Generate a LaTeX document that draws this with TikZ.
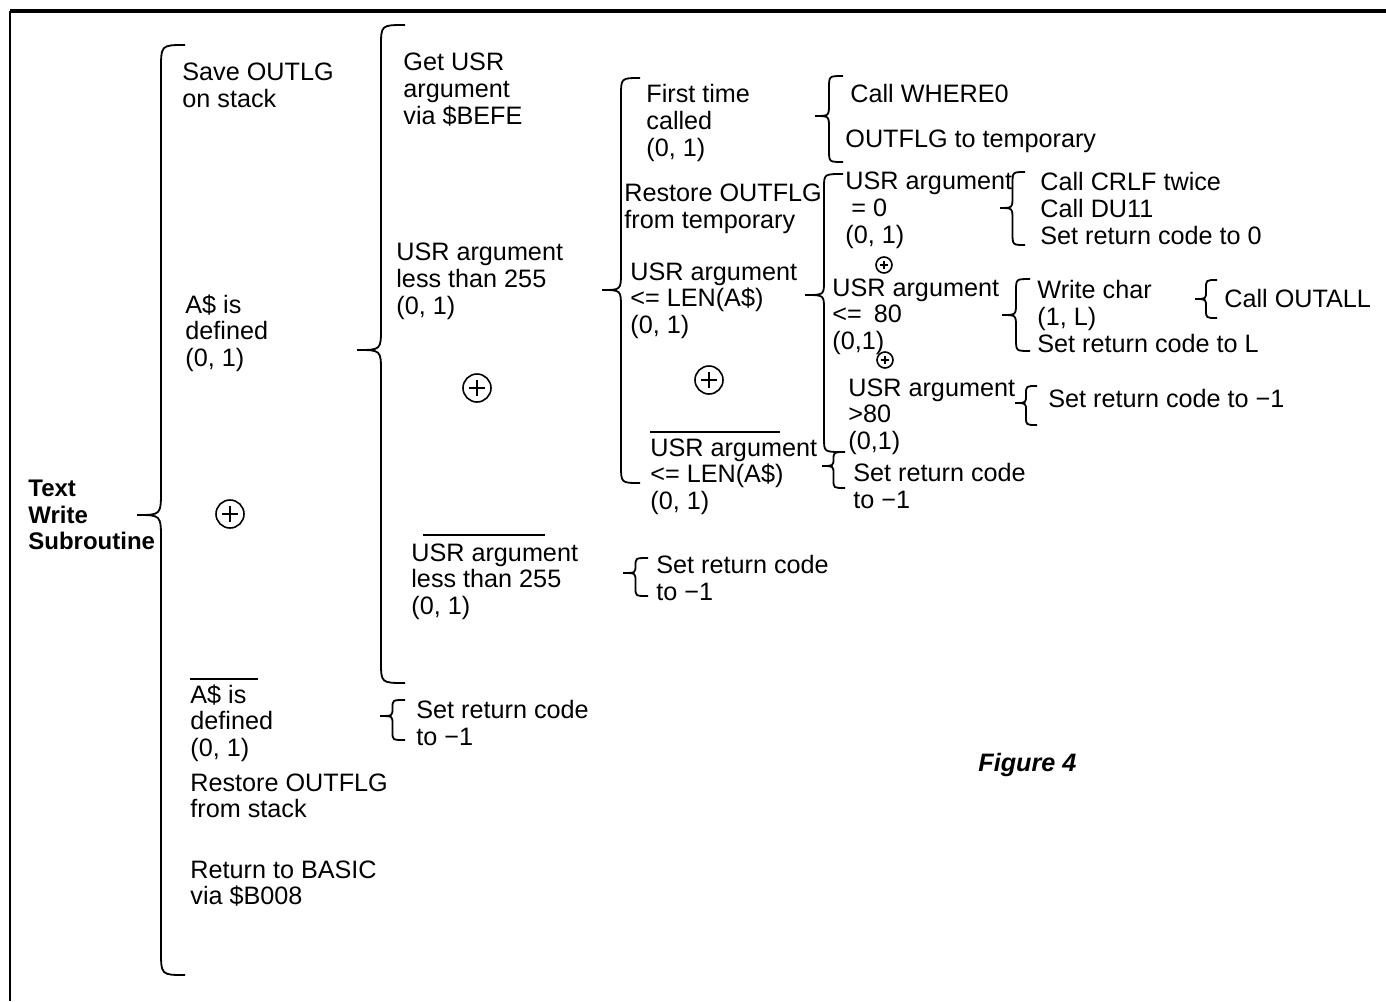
\documentclass[tikz,border=0pt]{standalone}
\usepackage{fontspec}
\setmainfont{Liberation Sans}
\usepackage{tikz}
\usetikzlibrary{positioning}

% Warnier-Orr brace: end x, top y, tip y, bottom y, width, hook size
\newcommand{\wobrace}[6]{%
  \pgfmathsetmacro{\bxl}{#1-#5/2}%
  \pgfmathsetmacro{\bxt}{#1-#5}%
  \draw[wob] (#1,#2) .. controls (\bxl,#2) .. (\bxl,#2+#6)
    -- (\bxl,#3-#6) .. controls (\bxl,#3) .. (\bxt,#3)
    .. controls (\bxl,#3) .. (\bxl,#3+#6)
    -- (\bxl,#4-#6) .. controls (\bxl,#4) .. (#1,#4);
}

\begin{document}
\begin{tikzpicture}[
    x=0.5pt, y=-0.5pt,
    txt/.style={anchor=north west, inner sep=0pt, align=left, font=\fontsize{12.6}{13.4}\selectfont},
    hd/.style={txt, font=\fontsize{12}{13.2}\selectfont\bfseries},
    fig/.style={txt, font=\fontsize{12.6}{14}\selectfont\bfseries\itshape},
    wob/.style={line width=0.9pt},
    ovl/.style={line width=0.9pt},
    oplus/.style={circle, draw, line width=0.8pt, minimum size=#1, inner sep=0pt,
        path picture={\draw[line width=0.7pt] ([yshift=-0.22*#1]path picture bounding box.north) -- ([yshift=0.22*#1]path picture bounding box.south)
            ([xshift=0.22*#1]path picture bounding box.west) -- ([xshift=-0.22*#1]path picture bounding box.east);}},
    oplus/.default=14pt
]
    \useasboundingbox (0,0) rectangle (1386,1001);
    \draw[line width=1.8pt] (10,11) -- (1386,11);
    \draw[line width=1.2pt] (10,11) -- (10,1001);

    % level 0
    \node[hd] (title) at (28,480) {Text\\Write\\Subroutine};
    \wobrace{185}{45}{515}{975}{48}{25}

    % level 1
    \node[txt] (save) at (182,63) {Save OUTLG\\on stack};
    \node[txt] (def) at (185,294) {A\$ is\\defined\\(0, 1)};
    \node[oplus] (x1) at (230,514) {};
    \node[txt] (ndef) at (190,684) {A\$ is\\defined\\(0, 1)};
    \draw[ovl] ([yshift=2.5pt]ndef.north west) -- ++(68,0);
    \node[txt] (rst) at (190,773) {Restore OUTFLG\\from stack};
    \node[txt] (ret) at (190,860) {Return to BASIC\\via \$B008};

    \wobrace{405}{25}{350}{683}{48}{22}
    \wobrace{405}{700}{716}{740}{25}{8}
    \node[txt] (ndefr) at (416,700) {Set return code\\to −1};

    % level 2
    \node[txt] (get) at (403,53) {Get USR\\argument\\via \$BEFE};
    \node[txt] (lt) at (396,243) {USR argument\\less than 255\\(0, 1)};
    \node[oplus] (x2) at (477,388) {};
    \node[txt] (nlt) at (411,543) {USR argument\\less than 255\\(0, 1)};
    \draw[ovl] ([xshift=6pt, yshift=4pt]nlt.north west) -- ++(122,0);
    \wobrace{648}{558}{573}{596}{25}{8}
    \node[txt] (nltr) at (656,555) {Set return code\\to −1};

    \wobrace{640}{78}{290}{483}{38}{18}

    % level 3
    \node[txt] (first) at (646,84) {First time\\called\\(0, 1)};
    \node[txt] (rtmp) at (624,184) {Restore OUTFLG\\from temporary};
    \node[txt] (le) at (630,262) {USR argument\\<= LEN(A\$)\\(0, 1)};
    \node[oplus] (x3) at (709,380) {};
    \node[txt] (nle) at (650,438) {USR argument\\<= LEN(A\$)\\(0, 1)};
    \draw[ovl] ([yshift=3pt]nle.north west) -- ++(130,0);

    \wobrace{843}{76}{116}{162}{28}{12}
    \node[txt] (where) at (850,84) {Call WHERE0};
    \node[txt] (otmp) at (845,130) {OUTFLG to temporary};

    \wobrace{845}{452}{466}{488}{23}{8}
    \node[txt] (nler) at (853,463) {Set return code\\to −1};

    \wobrace{843}{174}{295}{452}{38}{14}

    % level 4
    \node[txt] (eq) at (845,172) {USR argument\\\hspace*{3pt}= 0\\(0, 1)};
    \node[oplus=8pt] (x4) at (884,265) {};
    \node[txt] (le80) at (832,278) {USR argument\\<=\hspace*{6pt}80\\(0,1)};
    \node[oplus=8pt] (x5) at (885,360) {};
    \node[txt] (gt80) at (848,378) {USR argument\\>80\\(0,1)};

    \wobrace{1025}{172}{208}{245}{25}{12}
    \node[txt] (eqr) at (1040,172) {Call CRLF twice\\Call DU11\\Set return code to 0};
    \wobrace{1030}{279}{315}{351}{28}{12}
    \node[txt] (wch) at (1037,280) {Write char\\(1, L)\\Set return code to L};
    \wobrace{1217}{280}{299}{318}{22}{8}
    \node[txt] (outall) at (1224,289) {Call OUTALL};
    \wobrace{1037}{386}{403}{425}{22}{8}
    \node[txt] (gtr) at (1048,389) {Set return code to −1};

    \node[fig] (fig) at (978,753) {Figure 4};
\end{tikzpicture}
\end{document}
